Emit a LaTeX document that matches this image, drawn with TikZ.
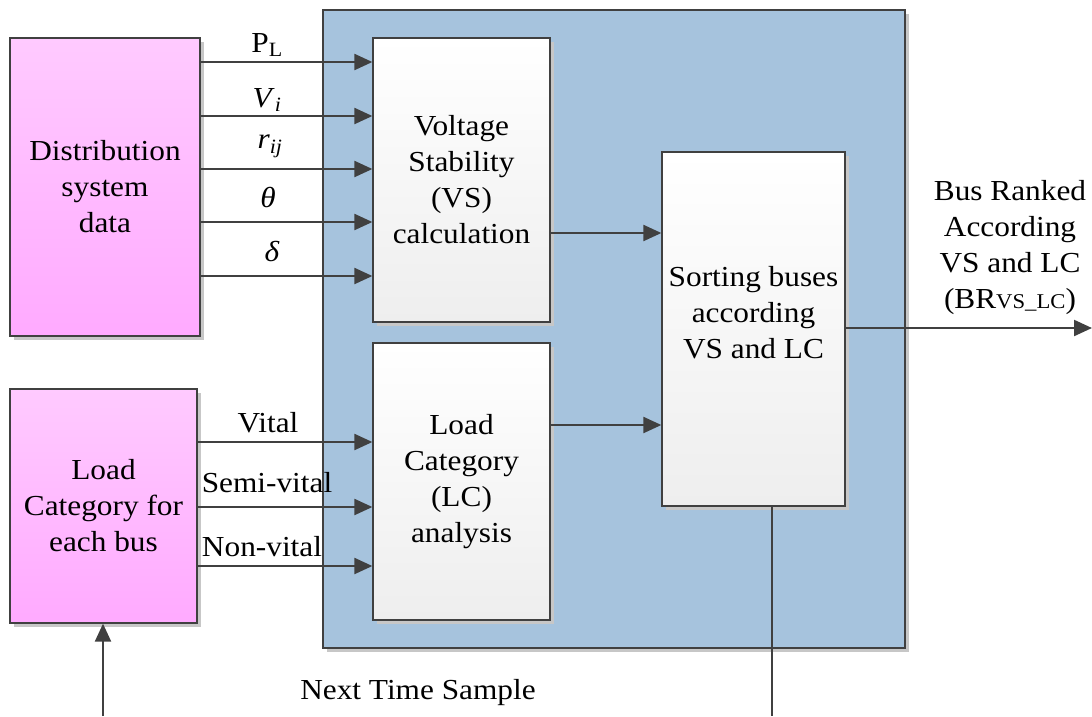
\documentclass[tikz,border=0pt]{standalone}
\usepackage{fontspec}
\setmainfont[FakeStretch=1.08]{Liberation Serif}
\usetikzlibrary{shadows,arrows.meta}
\definecolor{boxblue}{RGB}{166,195,221}
\definecolor{pinktop}{RGB}{255,202,255}
\definecolor{pinkbot}{RGB}{255,170,255}
\definecolor{edge}{RGB}{64,64,64}
\definecolor{whitebot}{RGB}{238,238,238}
\tikzset{
  shad/.style={drop shadow={shadow xshift=4pt,shadow yshift=-4pt,fill=black!22,opacity=1}},
  bluebox/.style={draw=edge,line width=1.3pt,fill=boxblue,shad,inner sep=0pt},
  pinkbox/.style={draw=edge,line width=1.3pt,top color=pinktop,bottom color=pinkbot,shad,inner sep=0pt,align=center},
  procbox/.style={draw=edge,line width=1.3pt,top color=white,bottom color=whitebot,shad,inner sep=0pt,align=center},
  arr/.style={draw=edge,line width=2.2pt,-{Triangle[length=18pt,width=16pt]}},
  plainline/.style={draw=edge,line width=2.2pt},
  lbl/.style={inner sep=0pt,align=center}
}
\begin{document}
\begin{tikzpicture}[x=1pt,y=-1pt,font=\fontsize{29}{36}\selectfont]
\useasboundingbox (0,0) rectangle (1092,716);
% main blue frame
\node[bluebox,minimum width=582pt,minimum height=638pt] (blue) at (614,329) {};
% input boxes
\node[pinkbox,minimum width=190pt,minimum height=298pt] (ds) at (105,187) {Distribution\\system\\data};
\node[pinkbox,minimum width=187pt,minimum height=234pt] (lcat) at (103.5,506) {Load\\Category for\\each bus};
% processing boxes
\node[procbox,minimum width=177pt,minimum height=284pt] (vs) at (461.5,180) {Voltage\\Stability\\(VS)\\calculation};
\node[procbox,minimum width=177pt,minimum height=277pt] (lc) at (461.5,481.5) {Load\\Category\\(LC)\\analysis};
\node[procbox,minimum width=183pt,minimum height=354pt] (sort) at (753.5,329) {};
\node[lbl] (sorttext) at (753.5,313) {Sorting buses\\according\\VS and LC};
% y-levels
\coordinate (y1) at (0,62);
\coordinate (y2) at (0,116);
\coordinate (y3) at (0,169);
\coordinate (y4) at (0,222);
\coordinate (y5) at (0,276);
\coordinate (y6) at (0,442);
\coordinate (y7) at (0,507);
\coordinate (y8) at (0,566);
\coordinate (yvs) at (0,233);
\coordinate (ylc) at (0,425);
\coordinate (yout) at (0,328);
\coordinate (outend) at (1092,328);
\coordinate (bot1) at (103,716);
\coordinate (bot2) at (772,716);
% inputs to VS
\draw[arr] (ds.east |- y1) -- (vs.west |- y1);
\draw[arr] (ds.east |- y2) -- (vs.west |- y2);
\draw[arr] (ds.east |- y3) -- (vs.west |- y3);
\draw[arr] (ds.east |- y4) -- (vs.west |- y4);
\draw[arr] (ds.east |- y5) -- (vs.west |- y5);
% inputs to LC
\draw[arr] (lcat.east |- y6) -- (lc.west |- y6);
\draw[arr] (lcat.east |- y7) -- (lc.west |- y7);
\draw[arr] (lcat.east |- y8) -- (lc.west |- y8);
% to sort
\draw[arr] (vs.east |- yvs) -- (sort.west |- yvs);
\draw[arr] (lc.east |- ylc) -- (sort.west |- ylc);
% output
\draw[arr] (sort.east |- yout) -- (outend);
% feedback
\draw[plainline] (sort.south -| bot2) -- (bot2);
\draw[arr] (bot1) -- (lcat.south -| bot1);
% labels
\node[lbl] (lPL) at (267,45) {P\textsubscript{L}};
\node[lbl] (lVi) at (267,100) {\textit{V}\textsubscript{\textit{i}}};
\node[lbl] (lrij) at (270,146) {\textit{r}\textsubscript{\textit{ij}}};
\node[lbl] (lth) at (268,197) {\textit{θ}};
\node[lbl] (lde) at (272,252) {\textit{δ}};
\node[lbl] (lvit) at (268,423) {Vital};
\node[lbl] (lsemi) at (267,483) {Semi-vital};
\node[lbl] (lnon) at (262,547) {Non-vital};
\node[lbl] (lout) at (1010,248) {Bus Ranked\\According\\VS and LC\\(BR{\fontsize{21}{21}\selectfont VS\_LC})};
\node[lbl] (lnext) at (418,693) {Next Time Sample};
\end{tikzpicture}
\end{document}
